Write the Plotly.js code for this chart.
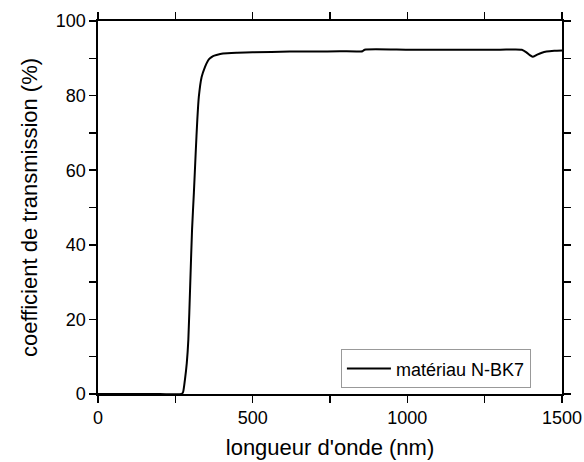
<!DOCTYPE html>
<html>
<head>
<meta charset="utf-8">
<script src="https://cdn.plot.ly/plotly-3.0.1.min.js"></script>
<style>html,body{margin:0;padding:0;background:#fff;}#chart{width:584px;height:462px;}</style>
</head>
<body>
<div id="chart"></div>
<script>
const wavelength = [0, 100, 200, 270, 275, 281, 287, 292, 298, 304, 310, 316, 321, 326, 335, 346, 355, 362, 372, 383, 404, 450, 500, 620, 700, 782, 855, 862, 1000, 1100, 1200, 1300, 1370, 1385, 1395, 1405, 1420, 1435, 1450, 1475, 1500];
const transmission = [0, 0, 0, 0, 0.5, 3.8, 8.3, 14.5, 29, 44, 54, 65, 73.5, 79.7, 85, 87.7, 89.3, 90, 90.6, 90.9, 91.3, 91.5, 91.6, 91.8, 91.8, 91.9, 91.9, 92.3, 92.3, 92.3, 92.3, 92.3, 92.3, 91.6, 90.9, 90.4, 91.0, 91.5, 91.8, 92.0, 92.1];
const xTickVals = [0, 250, 500, 750, 1000, 1250, 1500];
const xTickText = ['0', '', '500', '', '1000', '', '1500'];
const yTickVals = [0, 10, 20, 30, 40, 50, 60, 70, 80, 90, 100];
const yTickText = ['0', '', '20', '', '40', '', '60', '', '80', '', '100'];
const seriesName = "matériau N-BK7";
const xTitle = "longueur d'onde (nm)";
const yTitle = "coefficient de transmission (%)";

const font = "Liberation Sans, Arial, sans-serif";
const axisCommon = {
  showline: true, linecolor: '#000', linewidth: 1.6, mirror: 'allticks',
  ticks: 'outside', ticklen: 7, tickwidth: 1.5, tickcolor: '#000',
  showgrid: false, zeroline: false, tickmode: 'array',
  tickfont: {family: font, size: 18, color: '#000'}
};
const data = [{
  x: wavelength, y: transmission, type: 'scatter', mode: 'lines',
  name: seriesName, line: {color: '#000', width: 2, shape: 'spline', smoothing: 0.6}
}];
const layout = {
  width: 584, height: 462,
  margin: {l: 98, r: 22, t: 21, b: 68},
  paper_bgcolor: '#fff', plot_bgcolor: '#fff',
  showlegend: true,
  legend: {
    x: 0.933, y: 0.015, xanchor: 'right', yanchor: 'bottom',
    bordercolor: '#999', borderwidth: 1, bgcolor: '#fff',
    font: {family: font, size: 18, color: '#000'},
    itemwidth: 44, tracegroupgap: 0
  },
  xaxis: Object.assign({}, axisCommon, {
    range: [0, 1500], tickvals: xTickVals, ticktext: xTickText,
    title: {text: xTitle, font: {family: font, size: 22, color: '#000'}, standoff: 12}
  }),
  yaxis: Object.assign({}, axisCommon, {
    range: [0, 100], tickvals: yTickVals, ticktext: yTickText,
    title: {text: yTitle, font: {family: font, size: 22, color: '#000'}, standoff: 12}
  })
};
Plotly.newPlot('chart', data, layout, {staticPlot: true, displayModeBar: false});
</script>
</body>
</html>
